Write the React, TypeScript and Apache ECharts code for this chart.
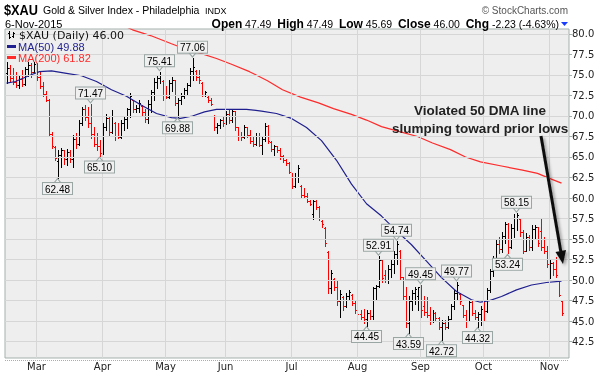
import React, { useEffect, useRef } from "react";
import * as echarts from "echarts";

// Trading days per month (2015)
const febDays = [13, 17, 18, 19, 20, 23, 24, 25, 26, 27];
const marDays = [2, 3, 4, 5, 6, 9, 10, 11, 12, 13, 16, 17, 18, 19, 20, 23, 24, 25, 26, 27, 30, 31];
const aprDays = [1, 2, 6, 7, 8, 9, 10, 13, 14, 15, 16, 17, 20, 21, 22, 23, 24, 27, 28, 29, 30];
const mayDays = [1, 4, 5, 6, 7, 8, 11, 12, 13, 14, 15, 18, 19, 20, 21, 22, 26, 27, 28, 29];
const junDays = [1, 2, 3, 4, 5, 8, 9, 10, 11, 12, 15, 16, 17, 18, 19, 22, 23, 24, 25, 26, 29, 30];
const julDays = [1, 2, 6, 7, 8, 9, 10, 13, 14, 15, 16, 17, 20, 21, 22, 23, 24, 27, 28, 29, 30, 31];
const augDays = [3, 4, 5, 6, 7, 10, 11, 12, 13, 14, 17, 18, 19, 20, 21, 24, 25, 26, 27, 28, 31];
const sepDays = [1, 2, 3, 4, 8, 9, 10, 11, 14, 15, 16, 17, 18, 21, 22, 23, 24, 25, 28, 29, 30];
const octDays = [1, 2, 5, 6, 7, 8, 9, 12, 13, 14, 15, 16, 19, 20, 21, 22, 23, 26, 27, 28, 29, 30];
const novDays = [2, 3, 4, 5, 6];
const monthNames = ["Feb", "Mar", "Apr", "May", "Jun", "Jul", "Aug", "Sep", "Oct", "Nov"];

// OHLC bars [open, high, low, close]
const febBars = [
  [75.2, 76.6, 74.0, 75.8], [75.8, 76.2, 74.3, 74.6], [74.6, 75.9, 73.9, 74.2], [74.2, 75.4, 73.5, 73.8],
  [73.8, 75.0, 73.4, 74.5], [74.5, 75.6, 73.6, 73.9], [73.9, 76.0, 73.8, 75.7], [75.7, 76.6, 74.9, 76.2],
  [76.2, 76.4, 74.8, 75.4], [75.4, 76.6, 75.2, 76.3],
];
const marBars = [
  [76.3, 76.5, 74.4, 74.8], [74.8, 75.4, 73.4, 73.7], [73.7, 74.2, 72.4, 72.7], [72.7, 73.0, 71.8, 72.0],
  [72.0, 72.1, 67.5, 67.8], [67.8, 68.1, 66.1, 66.4], [66.2, 66.3, 64.6, 64.9], [64.5, 65.9, 62.48, 65.3],
  [65.3, 66.1, 63.8, 65.8], [65.8, 65.9, 64.2, 64.7], [64.7, 66.0, 64.0, 65.6], [65.6, 65.9, 64.4, 64.8],
  [64.8, 67.7, 63.8, 67.2], [67.2, 67.9, 66.1, 66.6], [66.6, 69.5, 66.5, 69.1], [69.1, 71.1, 68.9, 70.8],
  [70.8, 71.3, 69.5, 69.9], [69.9, 71.1, 68.7, 69.1], [69.1, 71.47, 67.3, 67.8], [67.8, 68.7, 66.3, 66.6],
  [66.6, 67.9, 65.9, 66.3], [66.3, 67.1, 65.1, 65.5],
];
const aprBars = [
  [65.6, 69.1, 65.4, 68.6], [68.6, 70.3, 68.3, 69.8], [69.8, 69.9, 67.5, 68.0], [68.0, 70.7, 67.9, 70.0],
  [69.2, 69.3, 67.1, 67.6], [67.6, 69.1, 67.3, 67.4], [67.4, 69.5, 67.3, 69.2], [69.2, 69.9, 68.3, 69.6],
  [69.6, 71.0, 68.5, 70.8], [70.8, 72.8, 69.9, 72.4], [71.9, 71.95, 70.5, 70.8], [70.8, 71.3, 70.5, 71.0],
  [71.0, 72.0, 70.5, 71.6], [71.2, 71.3, 70.1, 70.5], [70.5, 70.9, 69.3, 69.6], [69.6, 71.95, 69.1, 71.5],
  [71.5, 73.2, 70.5, 72.9], [72.9, 74.6, 71.95, 74.2], [74.2, 75.0, 73.4, 74.6], [74.6, 75.41, 74.0, 75.0],
  [74.3, 74.4, 71.95, 72.5],
];
const mayBars = [
  [72.5, 73.6, 72.2, 72.3], [72.3, 74.4, 72.2, 74.0], [74.0, 74.8, 73.0, 74.4], [74.4, 74.4, 71.3, 71.6],
  [71.6, 72.2, 69.88, 71.9], [71.9, 72.8, 71.5, 72.4], [72.4, 73.4, 72.2, 73.2], [73.2, 74.0, 72.6, 73.8],
  [73.8, 75.8, 73.6, 75.5], [75.5, 77.06, 74.4, 76.0], [75.5, 75.6, 74.4, 74.8], [74.8, 75.6, 74.0, 74.4],
  [74.0, 74.2, 72.4, 72.6], [72.6, 73.0, 72.4, 72.9], [72.3, 72.4, 71.7, 71.9], [71.9, 72.2, 71.3, 71.5],
  [70.0, 70.1, 68.3, 68.6], [68.6, 69.1, 67.9, 68.9], [68.9, 69.6, 68.5, 69.5], [69.5, 69.9, 68.8, 69.1],
];
const junBars = [
  [69.2, 70.6, 69.0, 70.3], [70.3, 70.9, 69.1, 69.5], [69.5, 70.9, 69.3, 70.6], [70.6, 70.6, 68.3, 68.7],
  [68.7, 68.7, 67.1, 67.6], [67.6, 68.0, 67.1, 67.4], [67.4, 68.9, 67.3, 68.6], [68.6, 68.7, 67.4, 67.7],
  [67.7, 68.3, 66.7, 67.0], [67.0, 67.5, 66.3, 66.6], [66.6, 67.9, 66.5, 67.6], [67.6, 67.9, 66.3, 66.5],
  [66.5, 67.5, 65.4, 67.2], [67.2, 69.1, 67.0, 68.8], [68.8, 68.9, 66.7, 67.0], [66.8, 66.9, 65.7, 66.0],
  [66.0, 66.5, 65.2, 66.3], [66.3, 66.4, 65.6, 65.9], [65.9, 66.1, 64.8, 65.1], [65.1, 65.2, 64.4, 64.6],
  [64.6, 64.8, 64.0, 64.3], [64.3, 64.4, 63.0, 63.2],
];
const julBars = [
  [62.9, 63.0, 61.2, 61.5], [61.5, 63.0, 61.4, 62.6], [62.6, 64.0, 62.0, 63.6], [61.5, 61.6, 60.0, 60.4],
  [60.4, 61.2, 60.0, 60.2], [60.2, 60.6, 59.5, 59.6], [59.6, 59.8, 59.1, 59.3], [58.0, 59.8, 57.5, 59.6],
  [59.6, 59.7, 58.6, 58.9], [58.9, 59.0, 57.3, 57.6], [57.2, 57.3, 56.5, 56.8], [56.4, 56.5, 54.1, 54.5],
  [53.4, 53.5, 48.4, 49.0], [49.0, 51.2, 48.4, 50.8], [50.1, 50.2, 48.8, 49.2], [49.2, 50.0, 47.0, 47.5],
  [47.5, 48.8, 45.5, 48.3], [47.9, 48.0, 46.3, 46.8], [46.8, 48.4, 46.7, 48.0], [48.0, 48.8, 47.6, 48.5],
  [48.2, 48.3, 46.9, 47.2], [47.2, 47.6, 46.0, 46.4],
];
const augBars = [
  [46.4, 46.8, 45.6, 45.9], [45.9, 46.3, 45.3, 45.5], [45.5, 46.5, 44.8, 45.3], [45.3, 46.4, 44.45, 46.0],
  [46.0, 46.3, 45.3, 45.6], [45.6, 49.2, 45.3, 49.0], [49.0, 49.4, 47.6, 49.3], [49.3, 52.91, 49.1, 52.4],
  [52.4, 52.4, 49.8, 50.3], [50.6, 51.2, 49.8, 50.0], [50.0, 51.8, 49.6, 51.4], [51.4, 52.4, 50.4, 52.0],
  [52.0, 53.5, 50.8, 53.2], [53.2, 54.74, 52.0, 54.4], [53.6, 53.7, 50.0, 50.4], [50.4, 50.4, 47.6, 48.0],
  [48.0, 49.2, 44.3, 44.8], [44.8, 48.0, 43.59, 47.5], [47.5, 48.8, 46.3, 48.4], [48.4, 49.2, 47.1, 48.9],
  [48.0, 49.2, 46.3, 49.1],
];
const sepBars = [
  [49.1, 49.45, 45.5, 46.4], [46.8, 48.0, 45.8, 46.1], [46.1, 47.9, 45.5, 45.8], [45.8, 46.7, 44.7, 45.0],
  [45.0, 46.3, 44.9, 46.0], [46.0, 46.1, 45.1, 45.4], [45.4, 45.5, 44.0, 44.3], [44.3, 45.1, 42.72, 44.8],
  [44.8, 45.1, 44.0, 44.3], [44.3, 45.6, 44.1, 45.3], [45.3, 47.1, 45.2, 46.8], [46.8, 48.8, 46.5, 48.4],
  [48.4, 49.77, 47.6, 49.4], [48.3, 48.4, 47.1, 47.4], [46.9, 47.0, 45.5, 45.8], [45.8, 46.3, 44.3, 45.0],
  [45.0, 47.6, 45.0, 47.3], [47.3, 47.6, 45.7, 46.0], [46.0, 46.3, 45.3, 45.5], [45.5, 46.1, 44.32, 45.9],
  [45.9, 46.8, 44.5, 46.5],
];
const octBars = [
  [46.7, 47.6, 45.1, 46.2], [46.2, 49.0, 46.1, 48.8], [48.8, 51.4, 48.6, 51.1], [51.1, 52.9, 50.5, 52.7],
  [52.7, 54.9, 52.6, 54.4], [54.4, 55.3, 53.3, 53.8], [53.8, 55.9, 53.4, 55.4], [55.4, 57.1, 54.5, 56.8],
  [56.8, 56.9, 53.24, 54.0], [54.0, 56.8, 53.9, 56.4], [56.4, 58.1, 55.3, 57.6], [57.6, 58.15, 56.1, 57.9],
  [57.5, 57.6, 55.4, 55.8], [55.8, 56.1, 53.3, 53.6], [53.6, 55.7, 53.6, 55.2], [55.2, 55.5, 53.7, 54.0],
  [54.0, 56.7, 53.7, 56.2], [56.2, 56.7, 55.1, 56.5], [56.5, 56.5, 54.1, 54.5], [56.0, 57.4, 53.7, 54.0],
  [54.0, 55.3, 53.3, 53.6], [53.6, 54.1, 51.6, 52.0],
];
const novBars = [
  [51.2, 52.4, 50.2, 52.1], [52.1, 52.2, 50.6, 51.3], [51.3, 52.8, 50.4, 50.6], [50.0, 50.0, 48.0, 48.23],
  [47.49, 47.49, 45.69, 46.0],
];

// Moving averages read at sample bars (bar index, value)
const ma50Idx = [0, 3, 8, 11, 15, 20, 25, 30, 35, 40, 45, 50, 55, 58, 62, 66, 70, 75, 80, 85, 90, 95, 100, 105, 110, 115, 120, 125, 130, 135, 140, 145, 150, 155, 158, 161, 165, 170, 175, 180, 185];
const ma50Val = [74.0, 74.2, 75.0, 75.4, 75.5, 75.2, 74.9, 74.2, 73.2, 72.4, 71.3, 70.3, 69.8, 69.7, 70.0, 70.5, 70.8, 70.8, 70.8, 70.6, 70.3, 69.7, 68.6, 67.0, 64.6, 61.7, 59.3, 57.8, 56.0, 54.3, 52.3, 50.3, 48.6, 47.6, 47.3, 47.5, 48.0, 48.8, 49.4, 49.7, 49.88];
const ma200Idx = [38, 42, 48, 55, 60, 65, 70, 75, 81, 87, 92, 98, 104, 109, 115, 120, 125, 131, 137, 142, 148, 153, 158, 165, 172, 177, 181, 185];
const ma200Val = [81.2, 80.5, 79.8, 78.8, 78.1, 77.6, 77.0, 76.3, 75.4, 74.3, 73.2, 72.3, 71.6, 70.9, 70.2, 69.5, 68.7, 68.1, 67.5, 66.7, 65.9, 65.0, 64.4, 63.9, 63.4, 63.0, 62.4, 61.82];

// Annotated extremes
const peakIdx = [28, 51, 62, 124, 130, 138, 150, 170];
const peakVal = [71.47, 75.41, 77.06, 52.91, 54.74, 49.45, 49.77, 58.15];
const troughIdx = [17, 31, 57, 120, 134, 145, 157, 167];
const troughVal = [62.48, 65.1, 69.88, 44.45, 43.59, 42.72, 44.32, 53.24];

const yTicks = [42.5, 45, 47.5, 50, 52.5, 55, 57.5, 60, 62.5, 65, 67.5, 70, 72.5, 75, 77.5, 80];
const supportLevel = 42.4;
const supportStartIdx = 123;

export default function App() {
  const ref = useRef<HTMLDivElement>(null);
  useEffect(() => {
    const chart = echarts.init(ref.current!, null, { renderer: "svg" });
    const monthDays = [febDays, marDays, aprDays, mayDays, junDays, julDays, augDays, sepDays, octDays, novDays];
    const categories: string[] = [];
    const monthStart: string[] = [];
    monthDays.forEach((days, m) => {
      days.forEach((d, k) => {
        const name = monthNames[m] + " " + d;
        categories.push(name);
        if (k === 0 && m > 0) monthStart.push(name);
      });
    });
    categories.push("pad1", "pad2");
    const startSet = new Set(monthStart);

    const bars = [...febBars, ...marBars, ...aprBars, ...mayBars, ...junBars, ...julBars, ...augBars, ...sepBars, ...octBars, ...novBars];
    const ohlc = bars.map((b, i) => [i, b[0], b[1], b[2], b[3], i === 0 || b[3] >= bars[i - 1][3] ? 1 : 0]);

    const font = '"Liberation Sans", Arial, sans-serif';
    const dvs = '"DejaVu Sans", sans-serif';
    const boxLabel = {
      show: true,
      color: "#000",
      fontSize: 10,
      fontFamily: font,
      backgroundColor: "#f0f0f0",
      borderColor: "#9aa6a4",
      borderWidth: 1,
      padding: [1, 2, 0, 2],
      lineHeight: 10,
    };
    const gridColor = "#d6d6d6";
    const Z = 100;

    const option: any = {
      animation: false,
      grid: {
        left: 5, right: 33, top: 29, bottom: 19,
        show: true, backgroundColor: "#eeeeee", borderColor: "#a3b1ad", borderWidth: 1,
        containLabel: false, outerBoundsMode: "none",
      },
      xAxis: {
        type: "category",
        data: categories,
        boundaryGap: true,
        axisLine: { show: false },
        axisTick: { show: false },
        splitLine: { show: false },
        axisLabel: {
          interval: (_i: number, v: string) => startSet.has(v),
          formatter: (v: string) => v.split(" ")[0],
          fontSize: 10, fontFamily: dvs, color: "#222", margin: 3,
        },
      },
      yAxis: {
        type: "value",
        position: "right",
        min: 40.5,
        max: 80.6,
        axisLine: { show: false },
        splitLine: { show: false },
        axisTick: { show: true, customValues: yTicks, length: 3, lineStyle: { color: "#a3b1ad" } },
        axisLabel: {
          customValues: yTicks,
          formatter: (v: number) => v.toFixed(1),
          fontSize: 10, fontFamily: dvs, color: "#222", margin: 3,
        },
      },
      series: [
        {
          type: "line", data: [], z: 1, silent: true,
          markLine: {
            silent: true, symbol: ["none", "none"], label: { show: false },
            lineStyle: { color: gridColor, width: 1, type: "solid" },
            data: [
              ...yTicks.map((v) => ({ yAxis: v })),
              ...monthStart.map((c) => ({ xAxis: c })),
            ],
          },
        },
        {
          type: "custom", z: 3, clip: true,
          data: ohlc,
          encode: { x: 0, y: [2, 3] },
          renderItem: (_p: any, api: any) => {
            const i = api.value(0);
            const ph = api.coord([i, api.value(2)]);
            const pl = api.coord([i, api.value(3)]);
            const po = api.coord([i, api.value(1)]);
            const pc = api.coord([i, api.value(4)]);
            const x = Math.round(ph[0]) + 0.5;
            const color = api.value(5) ? "#000000" : "#ff0000";
            const style = { stroke: color, lineWidth: 1 };
            const yo = Math.round(po[1]) + 0.5;
            const yc = Math.round(pc[1]) + 0.5;
            return {
              type: "group",
              children: [
                { type: "line", shape: { x1: x, y1: Math.round(ph[1]), x2: x, y2: Math.round(pl[1]) + 1 }, style },
                { type: "line", shape: { x1: x - 1.5, y1: yo, x2: x, y2: yo }, style },
                { type: "line", shape: { x1: x, y1: yc, x2: x + 1.5, y2: yc }, style },
              ],
            };
          },
        },
        {
          type: "line", z: 4, symbol: "none", connectNulls: true, silent: true,
          data: ma200Idx.map((i, k) => [i, ma200Val[k]]),
          lineStyle: { color: "#ff2a2a", width: 1.2 },
        },
        {
          type: "line", z: 4, symbol: "none", connectNulls: true, silent: true,
          data: ma50Idx.map((i, k) => [i, ma50Val[k]]),
          lineStyle: { color: "#1f1f8f", width: 1.2 },
        },
        {
          type: "scatter", z: 5, silent: true,
          data: peakIdx.map((i, k) => [i, peakVal[k]]),
          symbol: "path://M0,0L8,0L4,5Z",
          symbolSize: [8, 5],
          symbolOffset: [0, -3.5],
          itemStyle: { color: "#f0f0f0", borderColor: "#9aa6a4", borderWidth: 1, opacity: 1 },
          label: { ...boxLabel, position: "top", distance: -1, formatter: (p: any) => p.value[1].toFixed(2) },
        },
        {
          type: "scatter", z: 5, silent: true,
          data: troughIdx.map((i, k) => [i, troughVal[k]]),
          symbol: "path://M4,0L8,5L0,5Z",
          symbolSize: [8, 5],
          symbolOffset: [0, 3.5],
          itemStyle: { color: "#f0f0f0", borderColor: "#9aa6a4", borderWidth: 1, opacity: 1 },
          label: { ...boxLabel, position: "bottom", distance: -1, formatter: (p: any) => p.value[1].toFixed(2) },
        },
        {
          type: "line", data: [], z: 6, silent: true,
          markLine: {
            silent: true, symbol: ["none", "none"], label: { show: false },
            lineStyle: {
              color: "#000", width: 2.5, type: "solid",
              shadowBlur: 3, shadowColor: "rgba(0,0,0,0.45)", shadowOffsetX: 1, shadowOffsetY: 2,
            },
            data: [[
              { coord: [categories[supportStartIdx], supportLevel] },
              { coord: [categories[categories.length - 1], supportLevel] },
            ]],
          },
        },
      ],
      graphic: [
        { type: "text", z: Z, x: 4, y: 9.5, scaleX: 0.85, style: { text: "$XAU", font: `bold 15px ${font}`, fill: "#000", verticalAlign: "middle" } },
        { type: "text", z: Z, x: 43, y: 10, style: { text: "Gold & Silver Index - Philadelphia", font: `10.5px ${font}`, fill: "#000", verticalAlign: "middle" } },
        { type: "text", z: Z, x: 205, y: 11, style: { text: "INDX", font: `9px ${font}`, fill: "#000", verticalAlign: "middle" } },
        { type: "text", z: Z, x: 5, y: 24, style: { text: "6-Nov-2015", font: `11px ${font}`, fill: "#000", verticalAlign: "middle" } },
        { type: "text", z: Z, x: 568, y: 10, style: { text: "© StockCharts.com", font: `10px ${font}`, fill: "#555", align: "right", verticalAlign: "middle" } },
        {
          type: "text", z: Z, x: 559, y: 24,
          style: {
            text: "{b|Open} 47.49  {b|High} 47.49  {b|Low} 45.69  {b|Close} 46.00  {b|Chg} -2.23 (-4.63%)",
            font: `10.5px ${font}`, fill: "#000", align: "right", verticalAlign: "middle",
            rich: { b: { fontWeight: "bold", fontSize: 12, fontFamily: font, fill: "#000" } },
          },
        },
        { type: "polygon", z: Z, shape: { points: [[561, 22], [568, 22], [564.5, 26]] }, style: { fill: "#1a3cff" } },
        // legend
        { type: "line", z: Z, shape: { x1: 9.5, y1: 31, x2: 9.5, y2: 39 }, style: { stroke: "#000", lineWidth: 1 } },
        { type: "line", z: Z, shape: { x1: 8, y1: 33.5, x2: 9.5, y2: 33.5 }, style: { stroke: "#000", lineWidth: 1 } },
        { type: "line", z: Z, shape: { x1: 9.5, y1: 37.5, x2: 11, y2: 37.5 }, style: { stroke: "#000", lineWidth: 1 } },
        { type: "line", z: Z, shape: { x1: 13.5, y1: 32, x2: 13.5, y2: 38 }, style: { stroke: "#000", lineWidth: 1 } },
        { type: "line", z: Z, shape: { x1: 12, y1: 36.5, x2: 13.5, y2: 36.5 }, style: { stroke: "#000", lineWidth: 1 } },
        { type: "line", z: Z, shape: { x1: 13.5, y1: 33.5, x2: 15, y2: 33.5 }, style: { stroke: "#000", lineWidth: 1 } },
        { type: "text", z: Z, x: 19, y: 35, style: { text: "$XAU (Daily) 46.00", font: `11px ${dvs}`, fill: "#111", verticalAlign: "middle" } },
        { type: "line", z: Z, shape: { x1: 7, y1: 46.5, x2: 16, y2: 46.5 }, style: { stroke: "#1f1f8f", lineWidth: 3 } },
        { type: "text", z: Z, x: 18, y: 46.5, style: { text: "MA(50) 49.88", font: `11px ${font}`, fill: "#1f1f8f", verticalAlign: "middle" } },
        { type: "line", z: Z, shape: { x1: 7, y1: 57.5, x2: 16, y2: 57.5 }, style: { stroke: "#ff2a2a", lineWidth: 3 } },
        { type: "text", z: Z, x: 18, y: 57.5, style: { text: "MA(200) 61.82", font: `11px ${font}`, fill: "#ff2a2a", verticalAlign: "middle" } },
        // annotation
        { type: "text", z: Z, x: 480, y: 110, style: { text: "Violated 50 DMA line", font: `bold 13.5px ${font}`, fill: "#222", align: "center", verticalAlign: "middle" } },
        { type: "text", z: Z, x: 480, y: 128, style: { text: "slumping toward prior lows", font: `bold 13.5px ${font}`, fill: "#222", align: "center", verticalAlign: "middle" } },
        {
          type: "line", z: Z, shape: { x1: 541, y1: 136, x2: 560.8, y2: 251.5 },
          style: { stroke: "#111", lineWidth: 3, shadowBlur: 3, shadowColor: "rgba(0,0,0,0.35)", shadowOffsetX: 2, shadowOffsetY: 2 },
        },
        {
          type: "polygon", z: Z, shape: { points: [[563, 264], [566, 250], [555.5, 252]] },
          style: { fill: "#111", shadowBlur: 3, shadowColor: "rgba(0,0,0,0.35)", shadowOffsetX: 2, shadowOffsetY: 2 },
        },
        { type: "line", z: Z, shape: { x1: 5, y1: 360.5, x2: 569, y2: 360.5 }, style: { stroke: "#a3b1ad", lineWidth: 1, lineDash: [1, 1] } },
      ],
    };
    chart.setOption(option);
    return () => chart.dispose();
  }, []);
  return <div ref={ref} style={{ position: "fixed", left: 0, top: 0, width: 602, height: 377 }} />;
}
